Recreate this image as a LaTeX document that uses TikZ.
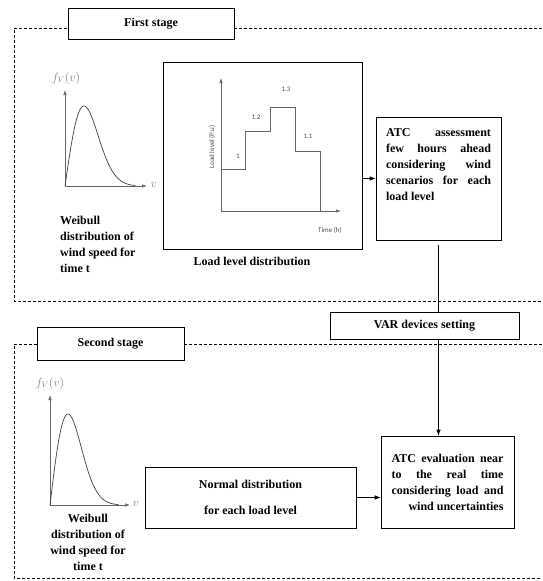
\documentclass[tikz,border=0pt]{standalone}
\usepackage{fontspec}
\setmainfont{Liberation Serif}
\newfontfamily\plotfont{Carlito}
\usetikzlibrary{arrows.meta,positioning}

\begin{document}
\begin{tikzpicture}[x=1pt, y=-1pt, >={Latex[length=6pt,width=4.5pt]},
  b/.style={draw, line width=0.6pt, font=\bfseries\fontsize{12}{16}\selectfont, align=center, inner sep=2pt},
  stagebox/.style={b, fill=white},
  stagefrm/.style={line width=0.5pt, dash pattern=on 3pt off 2pt},
  ax/.style={->, gray!80!black, line width=0.6pt, >={Latex[length=5pt,width=3.5pt]}},
  curve/.style={gray!50!black, line width=0.7pt},
  captxt/.style={font=\bfseries\fontsize{12}{16}\selectfont, inner sep=0pt},
  lbl/.style={font=\plotfont\fontsize{7}{8}\selectfont, text=gray!60!black, inner sep=1pt},
  axlbl/.style={text=gray, inner sep=0pt, font=\fontsize{12}{14}\selectfont},
  e/.style={->, line width=0.6pt}]
\useasboundingbox (0,0) rectangle (542,581);
% stage frames
\draw[stagefrm] (542,28) -- (14,28) -- (14,301) -- (542,301);
\draw[stagefrm] (542,344) -- (14,344) -- (14,578) -- (542,578);
\node[stagebox, minimum width=166, minimum height=31] (s1) at (151,23.5) {First stage};
\node[stagebox, minimum width=147, minimum height=33] (s2) at (110.5,343.5) {Second stage};

% first stage
\draw[ax] (65,186) -- (65,90);
\draw[ax] (65,186) -- (147,186);
\draw[curve] plot[domain=0:3.7, samples=60, smooth] ({65+19*\x}, {186-132*\x*exp(-\x*\x/2)});
\node[axlbl] (fv1) at (66,78) {$f_V(v)$};
\node[axlbl] (v1) at (154,185) {$v$};
\node[captxt, align=left, anchor=north west] (wb1) at (60,216) {Weibull\\distribution of\\wind speed for\\time t};

\node[b, minimum width=199, minimum height=187] (load) at (262.5,155.5) {};
\draw[ax] (221,211) -- (221,78);
\draw[ax] (221,211) -- (341,211);
\draw[gray!80!black, line width=0.7pt] (221,169) -- (245,169) -- (245,131) -- (270,131) -- (270,107)
  -- (295,107) -- (295,151) -- (320,151) -- (320,211);
\node[lbl] (l1) at (238,156) {1};
\node[lbl] (l12) at (256,117) {1.2};
\node[lbl] (l13) at (286,89) {1.3};
\node[lbl] (l11) at (308,136) {1.1};
\node[lbl, rotate=90] (ylab) at (212,147) {Load level (P.u)};
\node[lbl] (xlab) at (330,230) {Time (h)};
\node[captxt] (loadcap) at (252,261) {Load level distribution};

\node[b, minimum width=125, minimum height=123, text width=105, align=justify] (atc1) at (438.5,178.5)
  {ATC assessment\linebreak few hours ahead\linebreak considering wind\linebreak scenarios for each\linebreak load level\\[12pt]};
\draw[e] (load.east |- atc1.west) -- (atc1.west);

\node[b, minimum width=189, minimum height=27] (var) at (424.5,325.5) {VAR devices setting};
\draw[line width=0.6pt] ([yshift=-5pt]atc1.south) -- (atc1.south |- var.north);

% second stage
\draw[ax] (50,505) -- (50,395);
\draw[ax] (50,505) -- (130,505);
\draw[curve] plot[domain=0:3.8, samples=60, smooth] ({50+18*\x}, {505-150*\x*exp(-\x*\x/2)});
\node[axlbl] (fv2) at (50,383) {$f_V(v)$};
\node[axlbl] (v2) at (136,504) {$v$};
\node[captxt, align=center, anchor=north] (wb2) at (88,514) {Weibull\\distribution of\\wind speed for\\time t};

\node[b, minimum width=211, minimum height=61] (norm) at (250.5,497.5) {Normal distribution\\[10pt] for each load level};
\node[b, minimum width=133, minimum height=92, text width=112, align=justify] (atc2) at (447.5,482)
  {ATC evaluation near\linebreak to the real time\linebreak considering load and\linebreak \hspace*{\fill}wind uncertainties};
\draw[e] (atc1.south |- var.south) -- (atc1.south |- atc2.north);
\draw[e] (norm.east) -- (norm.east -| atc2.west);
\end{tikzpicture}
\end{document}
